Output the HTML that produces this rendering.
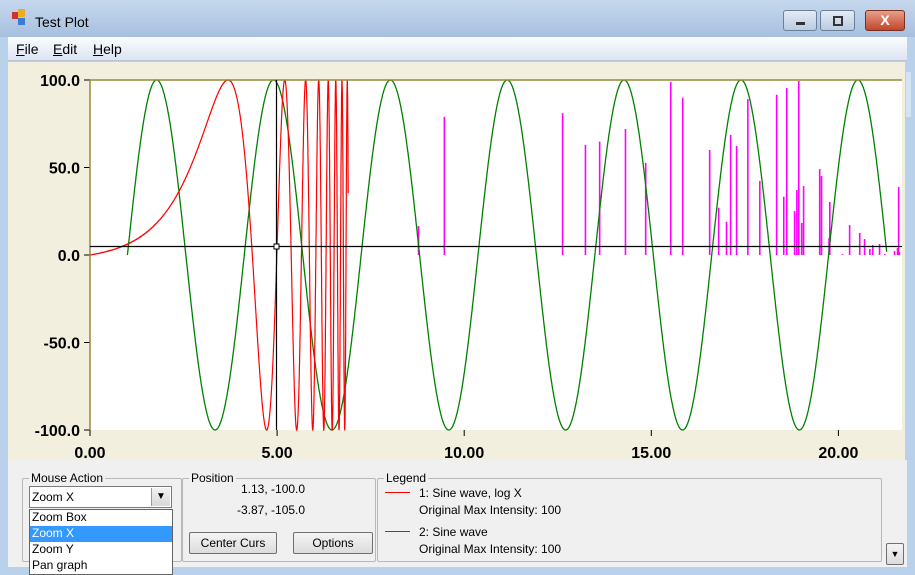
<!DOCTYPE html>
<html><head><meta charset="utf-8">
<style>
body{margin:0;width:915px;height:575px;overflow:hidden;font-family:"Liberation Sans",sans-serif;background:#b9d1ea;position:relative}
.abs{position:absolute}
.t{font-size:12px;color:#000;white-space:nowrap}
.gb{position:absolute;border:1px solid #b8b8b8;border-radius:2px}
.gb span.lbl{position:absolute;top:-8px;left:6px;background:#f0f0f0;padding:0 2px;font-size:12px}
.btn{position:absolute;border:1px solid #707070;background:linear-gradient(#f4f4f4,#dcdcdc);font-size:12px;text-align:center;line-height:20px;border-radius:2px}
</style></head><body>
<div class="abs" style="left:0;top:0;width:915px;height:37px;background:linear-gradient(#c6d8ee,#a7c0df)"></div>
<div class="abs" style="left:12px;top:12px;width:6px;height:7px;background:#c33"></div>
<div class="abs" style="left:18px;top:9px;width:7px;height:8px;background:#e8b020"></div>
<div class="abs" style="left:18px;top:18px;width:7px;height:7px;background:#3a7bd5"></div>
<div class="abs t" style="left:35px;top:14px;font-size:14px">Test Plot</div>
<div class="abs" style="left:783px;top:10px;width:34px;height:21px;border:1px solid #6b7f99;border-radius:3px;background:linear-gradient(#e4ecf6,#b9cbe2);box-sizing:border-box"><div class="abs" style="left:12px;top:11px;width:9px;height:3px;background:#333"></div></div>
<div class="abs" style="left:820px;top:10px;width:35px;height:21px;border:1px solid #6b7f99;border-radius:3px;background:linear-gradient(#e4ecf6,#b9cbe2);box-sizing:border-box"><div class="abs" style="left:12px;top:5px;width:6px;height:6px;border:2px solid #333"></div></div>
<div class="abs" style="left:865px;top:10px;width:40px;height:21px;border:1px solid #7a3020;border-radius:3px;background:linear-gradient(#e5a08c,#c4452c);box-sizing:border-box;color:#fff;font-weight:bold;text-align:center;font-size:14px;line-height:19px">X</div>
<div class="abs" style="left:8px;top:37px;width:899px;height:23px;background:linear-gradient(#fbfcfe,#dce5f3);border-bottom:1px solid #b7c3d6"></div>
<div class="abs t" style="left:16px;top:41px;font-size:14px"><u>F</u>ile</div>
<div class="abs t" style="left:53px;top:41px;font-size:14px"><u>E</u>dit</div>
<div class="abs t" style="left:93px;top:41px;font-size:14px"><u>H</u>elp</div>
<div class="abs" style="left:8px;top:62px;width:897px;height:398px;background:#f2efdf"></div>
<div class="abs" style="left:905px;top:62px;width:7px;height:398px;background:#b8d0ea"><div style="position:absolute;left:1px;top:10px;width:5px;height:45px;background:#d5e4f4"></div></div>
<div class="abs" style="left:8px;top:460px;width:899px;height:107px;background:#f0f0f0"></div>

<svg class="abs" style="left:0;top:0" width="915" height="575">
<rect x="90" y="80" width="812" height="350" fill="#fff"/>
<g id="ticks"></g>
<g id="series"></g>
<line x1="90" y1="80" x2="902" y2="80" stroke="#958a3c" stroke-width="1.5"/>
<line x1="90" y1="80" x2="90" y2="430" stroke="#958a3c" stroke-width="1.5"/>
<line x1="90" y1="246.5" x2="902" y2="246.5" stroke="#000" stroke-width="1.2"/>
<line x1="276.5" y1="80" x2="276.5" y2="430" stroke="#000" stroke-width="1.2"/>
<rect x="274" y="244" width="5" height="5" fill="#fff" stroke="#000"/>
</svg>

<div class="gb" style="left:22px;top:478px;width:158px;height:82px"><span class="lbl">Mouse Action</span></div>
<div class="abs" style="left:29px;top:486px;width:143px;height:22px;border:1px solid #7a7a7a;background:#fff;box-sizing:border-box"><span class="t" style="position:absolute;left:2px;top:3px">Zoom X</span><div style="position:absolute;right:1px;top:1px;width:18px;height:18px;background:linear-gradient(#f2f2f2,#d8d8d8);border-left:1px solid #999;text-align:center;font-size:10px;line-height:18px">▼</div></div>
<div class="abs" style="left:29px;top:509px;width:144px;height:66px;border:1px solid #646464;background:#fff;box-sizing:border-box">
<div class="t" style="height:16px;padding-left:2px">Zoom Box</div>
<div class="t" style="height:16px;padding-left:2px;background:#3399ff;color:#fff">Zoom X</div>
<div class="t" style="height:16px;padding-left:2px">Zoom Y</div>
<div class="t" style="height:16px;padding-left:2px">Pan graph</div></div>
<div class="gb" style="left:182px;top:478px;width:192px;height:82px"><span class="lbl">Position</span></div>
<div class="abs t" style="left:241px;top:482px">1.13, -100.0</div>
<div class="abs t" style="left:237px;top:503px">-3.87, -105.0</div>
<div class="btn" style="left:189px;top:532px;width:86px;height:20px">Center Curs</div>
<div class="btn" style="left:293px;top:532px;width:78px;height:20px">Options</div>
<div class="gb" style="left:377px;top:478px;width:503px;height:82px"><span class="lbl">Legend</span></div>
<div class="abs" style="left:385px;top:492px;width:25px;height:1px;background:#f00"></div>
<div class="abs t" style="left:419px;top:486px">1: Sine wave, log X</div>
<div class="abs t" style="left:419px;top:503px">Original Max Intensity: 100</div>
<div class="abs" style="left:385px;top:531px;width:25px;height:1px;background:#080"></div>
<div class="abs t" style="left:419px;top:525px">2: Sine wave</div>
<div class="abs t" style="left:419px;top:542px">Original Max Intensity: 100</div>
<div class="btn" style="left:886px;top:543px;width:16px;height:20px;font-size:9px">▼</div>

<script>
const xTicks=[0,5,10,15,20];
const xTickLabels=["0.00","5.00","10.00","15.00","20.00"];
const yTicks=[100,50,0,-50,-100];
const yTickLabels=["100.0","50.0","0.0","-50.0","-100.0"];
// series 2: sine wave  [start, end], period, amplitude
const greenRange=[1,21.3];
const greenPeriod=[3.123];
const greenAmp=[100];
// series 1: sine wave log X  [start, end], phase = c*(exp(k x)-1)
const redRange=[0,6.9];
const redParams=[0.0334,1.05];
const redAmp=[100];
// stick series
const stickX=[8.78,9.47,12.63,13.24,13.62,14.31,14.85,15.52,15.84,16.56,16.80,17.01,17.12,17.28,17.58,17.90,18.35,18.54,18.62,18.83,18.89,18.94,19.02,19.07,19.50,19.55,19.75,19.77,20.11,20.30,20.57,20.70,20.84,20.92,21.10,21.24,21.50,21.58,21.61,21.63];
const stickY=[16.6,78.9,81.1,62.9,64.8,72,52.6,98.9,89.9,60,27,19,68.6,62.3,89.1,42.3,91.6,33.3,95.4,25.1,37.1,99.4,18.3,39.4,49.1,45.1,9.7,30.3,0.5,17.1,12.6,9.1,3.4,5.7,6.3,0.5,2.3,4,38.9,1.7];

const NS="http://www.w3.org/2000/svg";
const sx=v=>90+v*37.42;
const sy=v=>255-v*1.75;
const tg=document.getElementById('ticks'), sg=document.getElementById('series');
function mk(tag,attrs,parent){const e=document.createElementNS(NS,tag);for(const k in attrs)e.setAttribute(k,attrs[k]);parent.appendChild(e);return e;}
xTicks.forEach((v,i)=>{
 const l=mk('line',{x1:sx(v),x2:sx(v),y1:430,y2:436,stroke:'#000'},tg);
 
 
 const t=mk('text',{x:sx(v),y:458,'text-anchor':'middle','font-size':'16','font-weight':'bold','font-family':'Liberation Sans, sans-serif'},tg);
 t.textContent=xTickLabels[i];
 
 
});
yTicks.forEach((v,i)=>{
 const l=mk('line',{x1:84,x2:90,y1:sy(v),y2:sy(v),stroke:'#000'},tg);
 
 
 const t=mk('text',{x:80,y:sy(v)+6,'text-anchor':'end','font-size':'16','font-weight':'bold','font-family':'Liberation Sans, sans-serif'},tg);
 t.textContent=yTickLabels[i];
 
 
});
stickX.forEach((x,i)=>{
 const l=mk('line',{x1:sx(x),x2:sx(x),y1:sy(0),y2:sy(stickY[i]),stroke:'#f0f','stroke-width':1.6},sg);
 
 
});
let gp='';
for(let x=greenRange[0];x<=greenRange[1];x+=0.01){const y=greenAmp[0]*Math.sin(2*Math.PI*(x-greenRange[0])/greenPeriod[0]);gp+=(gp?'L':'M')+sx(x).toFixed(1)+' '+sy(y).toFixed(1);}
const g=mk('path',{d:gp,fill:'none',stroke:'#008000','stroke-width':1.3},sg);


let rp='';
for(let x=redRange[0];x<=redRange[1];x+=0.002){const y=redAmp[0]*Math.sin(redParams[0]*(Math.exp(redParams[1]*x)-1));rp+=(rp?'L':'M')+sx(x).toFixed(1)+' '+sy(y).toFixed(1);}
const r=mk('path',{d:rp,fill:'none',stroke:'#f00','stroke-width':1.2},sg);


</script>
</body></html>
